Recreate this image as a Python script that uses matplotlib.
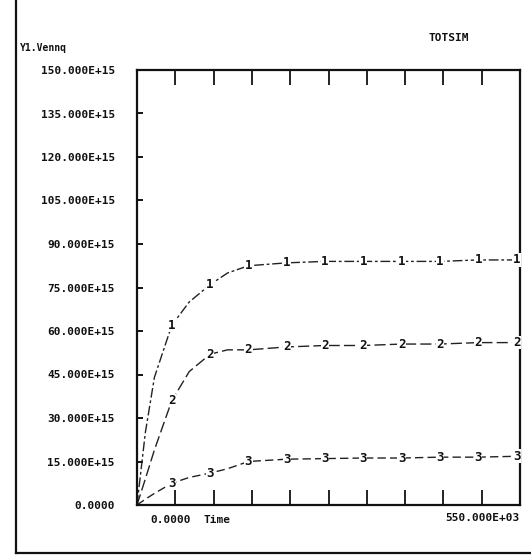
import numpy as np
import matplotlib.pyplot as plt
from matplotlib.lines import Line2D

plt.rcParams['font.family'] = ['DejaVu Sans Mono']

# time in thousands, values in E+15
time = [0, 12, 25, 50, 75, 105, 130, 160, 215, 270, 325, 380, 435, 490, 545, 550]
s1 = [0, 25, 44, 62, 70, 76, 80, 82.5, 83.5, 84, 84, 84, 84, 84.5, 84.5, 84.5]
s2 = [0, 9, 19, 36, 46, 52, 53.5, 53.5, 54.5, 55, 55, 55.5, 55.5, 56, 56, 56]
s3 = [0, 2, 4, 7.5, 9.5, 11, 12.5, 15, 15.8, 16, 16.2, 16.2, 16.5, 16.5, 16.8, 16.8]
marker_times = [50, 105, 160, 215, 270, 325, 380, 435, 490, 545]
y_ticks = [0, 15, 30, 45, 60, 75, 90, 105, 120, 135, 150]
y_labels = ['0.0000'] + [f'{v:.3f}E+15' for v in y_ticks[1:]]

fig = plt.figure(figsize=(5.31, 5.58), dpi=100)
ax = fig.add_axes([137 / 531, 1 - 505 / 558, 383 / 531, 435 / 558])

t = np.array(time)
mask = np.isin(t, marker_times)
styles = [(0, (7, 2, 2, 2)), (0, (8, 3)), (0, (6, 3))]
for series, tag, ls in zip([s1, s2, s3], ['1', '2', '3'], styles):
    v = np.array(series)
    ax.plot(t, v, color='#222222', lw=1.0, linestyle=ls)
    for tx, vy in zip(t[mask], v[mask]):
        ax.text(tx, vy, tag, ha='center', va='center', fontsize=9,
                fontweight='bold', color='#111111',
                bbox=dict(facecolor='white', edgecolor='none', pad=0.3))

ax.set_xlim(0, 550)
ax.set_ylim(0, 150)
ax.set_xticks(np.arange(0, 551, 55))
ax.set_xticklabels([])
ax.tick_params(axis='x', direction='in', length=11, width=1.3, top=True,
               bottom=True, color='#111111')
ax.set_yticks(y_ticks)
ax.set_yticklabels(y_labels, fontsize=8, fontweight='bold', color='#111111')
ax.tick_params(axis='y', direction='in', length=4, width=1.3, pad=16)
for sp in ax.spines.values():
    sp.set_linewidth(1.6)
    sp.set_color('#111111')

fig.text(150 / 531, 1 - 520 / 558, '0.0000', fontsize=8, fontweight='bold',
         va='center', color='#111111')
fig.text(204 / 531, 1 - 520 / 558, 'Time', fontsize=8, fontweight='bold',
         va='center', color='#111111')
fig.text(520 / 531, 1 - 518 / 558, '550.000E+03', fontsize=8,
         fontweight='bold', va='center', ha='right', color='#111111')
fig.text(20 / 531, 1 - 48 / 558, 'Y1.Vennq', fontsize=7, fontweight='bold',
         va='center', color='#111111')
fig.text(449 / 531, 1 - 38 / 558, 'TOTSIM', fontsize=8, fontweight='bold',
         va='center', ha='center', color='#111111')

# outer frame of the printout
fig.add_artist(Line2D([16 / 531, 16 / 531], [1 - 553 / 558, 1.0],
                      transform=fig.transFigure, color='#111111', lw=1.6))
fig.add_artist(Line2D([16 / 531, 1.0], [1 - 553 / 558, 1 - 553 / 558],
                      transform=fig.transFigure, color='#111111', lw=1.6))

fig.savefig('out.png', dpi=100)
